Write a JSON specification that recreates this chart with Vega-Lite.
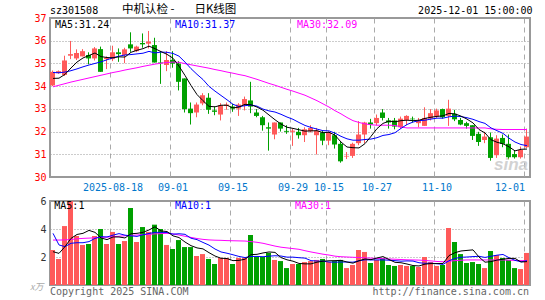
{
"$schema": "https://vega.github.io/schema/vega-lite/v6.json",
"autosize": {"type": "none"},
"padding": {"left": 50, "top": 18, "right": 495, "bottom": 282},
"background": "white",
"config": {
  "view": {"stroke": "#999", "strokeWidth": 2},
  "axis": {"domain": false, "ticks": false, "labelFont": "DejaVu Sans Mono", "labelFontSize": 10, "labelOverlap": false},
  "text": {"font": "DejaVu Sans Mono", "fontSize": 10, "baseline": "middle"}
},
"data": {"values": [
{"d":"2025-08-04","o":34.03,"h":34.69,"l":34.0,"c":34.63,"m5":34.34,"m10":34.6,"m30":33.97,"v":2.5,"vm5":2.38,"vm10":3.69,"vm30":3.21},
{"d":"2025-08-05","o":34.57,"h":34.69,"l":34.54,"c":34.66,"m5":34.35,"m10":34.59,"m30":34.04,"v":1.86,"vm5":2.26,"vm10":2.86,"vm30":3.21},
{"d":"2025-08-06","o":34.49,"h":35.34,"l":34.45,"c":35.13,"m5":34.52,"m10":34.62,"m30":34.11,"v":4.21,"vm5":2.74,"vm10":2.74,"vm30":3.22},
{"d":"2025-08-07","o":35.34,"h":35.99,"l":35.19,"c":35.41,"m5":34.8,"m10":34.68,"m30":34.18,"v":6.0,"vm5":3.33,"vm10":2.98,"vm30":3.25},
{"d":"2025-08-08","o":35.22,"h":35.62,"l":35.15,"c":35.46,"m5":35.06,"m10":34.76,"m30":34.24,"v":3.5,"vm5":3.61,"vm10":3.02,"vm30":3.3},
{"d":"2025-08-11","o":35.31,"h":35.63,"l":35.31,"c":35.54,"m5":35.24,"m10":34.85,"m30":34.3,"v":2.86,"vm5":3.69,"vm10":3.02,"vm30":3.33},
{"d":"2025-08-12","o":35.37,"h":35.49,"l":34.96,"c":35.22,"m5":35.35,"m10":34.93,"m30":34.36,"v":2.93,"vm5":3.9,"vm10":3.1,"vm30":3.35},
{"d":"2025-08-13","o":35.22,"h":35.72,"l":35.13,"c":35.66,"m5":35.46,"m10":35.0,"m30":34.42,"v":3.5,"vm5":3.76,"vm10":3.33,"vm30":3.37},
{"d":"2025-08-14","o":35.63,"h":35.74,"l":34.63,"c":34.63,"m5":35.3,"m10":35.07,"m30":34.48,"v":4.0,"vm5":3.36,"vm10":3.45,"vm30":3.4},
{"d":"2025-08-15","o":35.19,"h":35.31,"l":34.75,"c":35.25,"m5":35.26,"m10":35.16,"m30":34.54,"v":2.93,"vm5":3.24,"vm10":3.43,"vm30":3.42},
{"d":"2025-08-18","o":35.19,"h":35.78,"l":35.1,"c":35.49,"m5":35.25,"m10":35.25,"m30":34.6,"v":3.79,"vm5":3.43,"vm10":3.56,"vm30":3.45},
{"d":"2025-08-19","o":35.49,"h":35.66,"l":35.07,"c":35.41,"m5":35.29,"m10":35.32,"m30":34.65,"v":2.93,"vm5":3.43,"vm10":3.67,"vm30":3.48},
{"d":"2025-08-20","o":35.37,"h":35.69,"l":35.01,"c":35.62,"m5":35.28,"m10":35.37,"m30":34.71,"v":3.14,"vm5":3.36,"vm10":3.56,"vm30":3.52},
{"d":"2025-08-21","o":35.84,"h":36.37,"l":35.51,"c":35.66,"m5":35.49,"m10":35.39,"m30":34.76,"v":5.5,"vm5":3.66,"vm10":3.51,"vm30":3.55},
{"d":"2025-08-22","o":35.54,"h":35.78,"l":35.5,"c":35.74,"m5":35.58,"m10":35.42,"m30":34.81,"v":3.07,"vm5":3.69,"vm10":3.47,"vm30":3.57},
{"d":"2025-08-25","o":35.9,"h":36.32,"l":35.69,"c":35.84,"m5":35.65,"m10":35.45,"m30":34.87,"v":4.14,"vm5":3.76,"vm10":3.59,"vm30":3.6},
{"d":"2025-08-26","o":35.87,"h":36.43,"l":35.66,"c":35.96,"m5":35.76,"m10":35.53,"m30":34.92,"v":3.79,"vm5":3.93,"vm10":3.68,"vm30":3.62},
{"d":"2025-08-27","o":35.81,"h":36.13,"l":35.04,"c":35.04,"m5":35.65,"m10":35.46,"m30":34.97,"v":4.31,"vm5":4.16,"vm10":3.76,"vm30":3.65},
{"d":"2025-08-28","o":35.04,"h":35.54,"l":34.1,"c":35.01,"m5":35.52,"m10":35.5,"m30":35.01,"v":4.0,"vm5":3.86,"vm10":3.76,"vm30":3.67},
{"d":"2025-08-29","o":34.93,"h":35.54,"l":34.66,"c":35.15,"m5":35.4,"m10":35.49,"m30":35.04,"v":2.86,"vm5":3.82,"vm10":3.75,"vm30":3.69},
{"d":"2025-09-01","o":35.16,"h":35.54,"l":34.81,"c":34.99,"m5":35.23,"m10":35.44,"m30":35.06,"v":2.57,"vm5":3.51,"vm10":3.63,"vm30":3.65},
{"d":"2025-09-02","o":34.99,"h":35.1,"l":33.81,"c":34.19,"m5":34.88,"m10":35.32,"m30":35.05,"v":3.21,"vm5":3.39,"vm10":3.66,"vm30":3.57},
{"d":"2025-09-03","o":34.34,"h":34.34,"l":32.84,"c":32.99,"m5":34.47,"m10":35.06,"m30":34.99,"v":2.71,"vm5":3.07,"vm10":3.62,"vm30":3.48},
{"d":"2025-09-04","o":33.01,"h":33.28,"l":32.31,"c":32.81,"m5":34.03,"m10":34.77,"m30":34.94,"v":2.71,"vm5":2.81,"vm10":3.34,"vm30":3.4},
{"d":"2025-09-05","o":32.84,"h":33.28,"l":32.63,"c":33.19,"m5":33.63,"m10":34.52,"m30":34.89,"v":2.07,"vm5":2.65,"vm10":3.24,"vm30":3.32},
{"d":"2025-09-08","o":33.24,"h":33.69,"l":33.16,"c":33.6,"m5":33.36,"m10":34.29,"m30":34.84,"v":2.21,"vm5":2.58,"vm10":3.04,"vm30":3.26},
{"d":"2025-09-09","o":33.49,"h":33.69,"l":32.78,"c":32.96,"m5":33.11,"m10":33.99,"m30":34.79,"v":1.86,"vm5":2.31,"vm10":2.85,"vm30":3.22},
{"d":"2025-09-10","o":32.93,"h":33.1,"l":32.72,"c":32.87,"m5":33.09,"m10":33.78,"m30":34.73,"v":1.5,"vm5":2.07,"vm10":2.57,"vm30":3.2},
{"d":"2025-09-11","o":32.75,"h":33.25,"l":32.49,"c":33.16,"m5":33.16,"m10":33.59,"m30":34.68,"v":1.93,"vm5":1.91,"vm10":2.36,"vm30":3.19},
{"d":"2025-09-12","o":33.13,"h":33.28,"l":32.96,"c":33.19,"m5":33.16,"m10":33.4,"m30":34.62,"v":1.93,"vm5":1.89,"vm10":2.27,"vm30":3.17},
{"d":"2025-09-15","o":33.1,"h":33.22,"l":32.87,"c":33.01,"m5":33.04,"m10":33.2,"m30":34.57,"v":1.5,"vm5":1.74,"vm10":2.16,"vm30":3.16},
{"d":"2025-09-16","o":33.01,"h":33.25,"l":32.69,"c":33.19,"m5":33.08,"m10":33.1,"m30":34.51,"v":1.93,"vm5":1.76,"vm10":2.04,"vm30":3.15},
{"d":"2025-09-17","o":33.16,"h":33.54,"l":32.93,"c":33.43,"m5":33.2,"m10":33.14,"m30":34.46,"v":1.93,"vm5":1.84,"vm10":1.96,"vm30":3.14},
{"d":"2025-09-18","o":33.37,"h":34.19,"l":32.81,"c":33.1,"m5":33.18,"m10":33.17,"m30":34.38,"v":3.57,"vm5":2.17,"vm10":2.04,"vm30":3.1},
{"d":"2025-09-19","o":32.84,"h":32.99,"l":32.63,"c":32.69,"m5":33.08,"m10":33.12,"m30":34.3,"v":2.0,"vm5":2.19,"vm10":2.04,"vm30":3.05},
{"d":"2025-09-22","o":32.63,"h":32.69,"l":32.04,"c":32.28,"m5":32.94,"m10":32.99,"m30":34.21,"v":2.0,"vm5":2.29,"vm10":2.02,"vm30":2.98},
{"d":"2025-09-23","o":32.19,"h":32.4,"l":31.16,"c":32.13,"m5":32.73,"m10":32.91,"m30":34.12,"v":2.29,"vm5":2.36,"vm10":2.06,"vm30":2.88},
{"d":"2025-09-24","o":31.87,"h":32.4,"l":31.66,"c":32.4,"m5":32.52,"m10":32.86,"m30":34.04,"v":1.79,"vm5":2.33,"vm10":2.09,"vm30":2.78},
{"d":"2025-09-25","o":32.4,"h":32.4,"l":32.0,"c":32.13,"m5":32.33,"m10":32.76,"m30":33.95,"v":1.71,"vm5":1.96,"vm10":2.07,"vm30":2.7},
{"d":"2025-09-26","o":32.03,"h":32.28,"l":31.9,"c":31.99,"m5":32.19,"m10":32.64,"m30":33.86,"v":1.21,"vm5":1.8,"vm10":1.99,"vm30":2.65},
{"d":"2025-09-29","o":31.99,"h":32.13,"l":31.37,"c":32.04,"m5":32.14,"m10":32.54,"m30":33.78,"v":1.5,"vm5":1.7,"vm10":1.99,"vm30":2.6},
{"d":"2025-09-30","o":31.99,"h":32.16,"l":31.69,"c":31.84,"m5":32.08,"m10":32.4,"m30":33.69,"v":1.5,"vm5":1.54,"vm10":1.95,"vm30":2.55},
{"d":"2025-10-09","o":31.84,"h":32.19,"l":31.54,"c":32.1,"m5":32.02,"m10":32.27,"m30":33.6,"v":1.64,"vm5":1.51,"vm10":1.92,"vm30":2.45},
{"d":"2025-10-10","o":32.01,"h":32.28,"l":31.96,"c":32.16,"m5":32.03,"m10":32.18,"m30":33.48,"v":1.71,"vm5":1.51,"vm10":1.74,"vm30":2.36},
{"d":"2025-10-13","o":31.84,"h":32.16,"l":30.99,"c":32.04,"m5":32.04,"m10":32.11,"m30":33.36,"v":1.79,"vm5":1.63,"vm10":1.71,"vm30":2.28},
{"d":"2025-10-14","o":31.96,"h":32.04,"l":31.4,"c":31.6,"m5":31.95,"m10":32.04,"m30":33.22,"v":1.86,"vm5":1.7,"vm10":1.7,"vm30":2.2},
{"d":"2025-10-15","o":31.6,"h":32.01,"l":31.4,"c":31.96,"m5":31.97,"m10":32.03,"m30":33.08,"v":1.64,"vm5":1.73,"vm10":1.64,"vm30":2.14},
{"d":"2025-10-16","o":31.84,"h":31.99,"l":31.25,"c":31.43,"m5":31.84,"m10":31.93,"m30":32.92,"v":1.71,"vm5":1.74,"vm10":1.63,"vm30":2.06},
{"d":"2025-10-17","o":31.46,"h":31.54,"l":30.63,"c":30.69,"m5":31.54,"m10":31.79,"m30":32.78,"v":1.79,"vm5":1.76,"vm10":1.64,"vm30":2.02},
{"d":"2025-10-20","o":30.9,"h":31.1,"l":30.79,"c":30.93,"m5":31.32,"m10":31.68,"m30":32.62,"v":1.21,"vm5":1.64,"vm10":1.64,"vm30":2.0},
{"d":"2025-10-21","o":30.93,"h":31.51,"l":30.84,"c":31.46,"m5":31.29,"m10":31.62,"m30":32.48,"v":1.43,"vm5":1.56,"vm10":1.63,"vm30":1.98},
{"d":"2025-10-22","o":31.49,"h":32.46,"l":31.4,"c":31.87,"m5":31.28,"m10":31.62,"m30":32.4,"v":2.5,"vm5":1.73,"vm10":1.73,"vm30":1.96},
{"d":"2025-10-23","o":31.87,"h":32.43,"l":31.49,"c":32.4,"m5":31.47,"m10":31.65,"m30":32.34,"v":2.36,"vm5":1.86,"vm10":1.8,"vm30":1.94},
{"d":"2025-10-24","o":32.4,"h":32.56,"l":32.13,"c":32.31,"m5":31.79,"m10":31.67,"m30":32.3,"v":1.57,"vm5":1.81,"vm10":1.79,"vm30":1.92},
{"d":"2025-10-27","o":32.37,"h":32.75,"l":32.28,"c":32.6,"m5":32.13,"m10":31.73,"m30":32.28,"v":1.79,"vm5":1.93,"vm10":1.79,"vm30":1.9},
{"d":"2025-10-28","o":32.84,"h":32.99,"l":32.49,"c":32.6,"m5":32.36,"m10":31.83,"m30":32.28,"v":1.93,"vm5":2.03,"vm10":1.79,"vm30":1.88},
{"d":"2025-10-29","o":32.49,"h":32.6,"l":32.13,"c":32.4,"m5":32.46,"m10":31.87,"m30":32.28,"v":1.43,"vm5":1.82,"vm10":1.77,"vm30":1.86},
{"d":"2025-10-30","o":32.49,"h":32.6,"l":32.1,"c":32.22,"m5":32.43,"m10":31.95,"m30":32.27,"v":1.36,"vm5":1.62,"vm10":1.74,"vm30":1.84},
{"d":"2025-10-31","o":32.19,"h":32.66,"l":32.13,"c":32.57,"m5":32.48,"m10":32.14,"m30":32.2,"v":1.43,"vm5":1.59,"vm10":1.7,"vm30":1.82},
{"d":"2025-11-03","o":32.51,"h":32.72,"l":32.28,"c":32.69,"m5":32.5,"m10":32.31,"m30":32.16,"v":1.36,"vm5":1.5,"vm10":1.72,"vm30":1.8},
{"d":"2025-11-04","o":32.57,"h":32.66,"l":32.4,"c":32.54,"m5":32.48,"m10":32.42,"m30":32.16,"v":1.36,"vm5":1.39,"vm10":1.71,"vm30":1.79},
{"d":"2025-11-05","o":32.37,"h":32.6,"l":32.19,"c":32.49,"m5":32.5,"m10":32.48,"m30":32.16,"v":1.29,"vm5":1.36,"vm10":1.59,"vm30":1.78},
{"d":"2025-11-06","o":32.25,"h":33.07,"l":32.25,"c":32.6,"m5":32.58,"m10":32.5,"m30":32.16,"v":2.0,"vm5":1.49,"vm10":1.55,"vm30":1.75},
{"d":"2025-11-07","o":32.57,"h":32.99,"l":32.49,"c":32.81,"m5":32.63,"m10":32.55,"m30":32.16,"v":1.64,"vm5":1.53,"vm10":1.56,"vm30":1.72},
{"d":"2025-11-10","o":32.66,"h":33.01,"l":32.6,"c":32.93,"m5":32.67,"m10":32.59,"m30":32.16,"v":1.36,"vm5":1.53,"vm10":1.52,"vm30":1.68},
{"d":"2025-11-11","o":32.99,"h":33.01,"l":32.57,"c":32.63,"m5":32.69,"m10":32.59,"m30":32.16,"v":1.43,"vm5":1.54,"vm10":1.47,"vm30":1.66},
{"d":"2025-11-12","o":32.69,"h":33.4,"l":32.25,"c":33.01,"m5":32.8,"m10":32.65,"m30":32.16,"v":4.07,"vm5":2.1,"vm10":1.73,"vm30":1.7},
{"d":"2025-11-13","o":32.78,"h":32.96,"l":32.46,"c":32.54,"m5":32.78,"m10":32.68,"m30":32.16,"v":3.07,"vm5":2.31,"vm10":1.9,"vm30":1.74},
{"d":"2025-11-14","o":32.51,"h":32.6,"l":32.28,"c":32.31,"m5":32.68,"m10":32.66,"m30":32.16,"v":2.21,"vm5":2.43,"vm10":1.98,"vm30":1.77},
{"d":"2025-11-17","o":32.37,"h":32.43,"l":32.13,"c":32.25,"m5":32.55,"m10":32.61,"m30":32.16,"v":1.57,"vm5":2.47,"vm10":2.0,"vm30":1.79},
{"d":"2025-11-18","o":32.28,"h":32.28,"l":31.63,"c":31.81,"m5":32.38,"m10":32.54,"m30":32.16,"v":1.64,"vm5":2.51,"vm10":2.03,"vm30":1.79},
{"d":"2025-11-19","o":31.9,"h":31.99,"l":31.37,"c":31.54,"m5":32.09,"m10":32.44,"m30":32.16,"v":1.5,"vm5":2.0,"vm10":2.05,"vm30":1.79},
{"d":"2025-11-20","o":31.63,"h":31.99,"l":31.49,"c":31.78,"m5":31.94,"m10":32.36,"m30":32.16,"v":1.21,"vm5":1.63,"vm10":1.97,"vm30":1.79},
{"d":"2025-11-21","o":31.75,"h":31.96,"l":30.72,"c":30.84,"m5":31.64,"m10":32.16,"m30":32.12,"v":2.43,"vm5":1.67,"vm10":2.05,"vm30":1.79},
{"d":"2025-11-24","o":30.96,"h":31.84,"l":30.84,"c":31.69,"m5":31.53,"m10":32.04,"m30":32.1,"v":2.14,"vm5":1.78,"vm10":2.13,"vm30":1.79},
{"d":"2025-11-25","o":31.72,"h":31.87,"l":31.31,"c":31.46,"m5":31.46,"m10":31.92,"m30":32.09,"v":1.93,"vm5":1.84,"vm10":2.18,"vm30":1.79},
{"d":"2025-11-26","o":31.46,"h":31.87,"l":30.78,"c":30.87,"m5":31.33,"m10":31.71,"m30":32.09,"v":1.79,"vm5":1.9,"vm10":1.95,"vm30":1.77},
{"d":"2025-11-27","o":31.01,"h":31.16,"l":30.81,"c":30.87,"m5":31.15,"m10":31.54,"m30":32.09,"v":1.21,"vm5":1.9,"vm10":1.76,"vm30":1.76},
{"d":"2025-11-28","o":30.87,"h":31.34,"l":30.81,"c":31.19,"m5":31.22,"m10":31.43,"m30":32.09,"v":1.14,"vm5":1.64,"vm10":1.66,"vm30":1.74},
{"d":"2025-12-01","o":31.31,"h":32.13,"l":31.28,"c":31.78,"m5":31.23,"m10":31.38,"m30":32.09,"v":2.29,"vm5":1.67,"vm10":1.73,"vm30":1.74}
]},
"spacing": 24,
"bounds": "flush",
"vconcat": [
{
  "width": 480, "height": 159,
  "layer": [
    {"mark": {"type": "bar", "width": 5, "xOffset": -0.5},
     "encoding": {
       "x": {"field": "d", "type": "ordinal", "title": null, "scale": {"paddingInner": 0, "paddingOuter": 0},
             "axis": {"title": null, "values": ["2025-08-18","2025-09-01","2025-09-15","2025-09-29","2025-10-15","2025-10-27","2025-11-10","2025-12-01"],
                      "labelExpr": "datum.value == '2025-08-18' ? datum.value : slice(datum.value, 5)",
                      "labelColor": "#0077cc", "labelAngle": 0, "labelPadding": 5, "grid": true, "gridDash": [5,4], "gridColor": "#aaa",
                      "bandPosition": 0.12, "labelFlush": 6, "labelFlushOffset": -2, "labelOverlap": false, "labelBound": false}},
       "y": {"field": "o", "type": "quantitative", "title": null, "scale": {"domain": [30,37], "nice": false, "zero": false},
             "axis": {"title": null, "values": [30,31,32,33,34,35,36,37], "tickCount": 8, "labelColor": "#ff0000", "grid": true, "gridDash": [1,2], "gridColor": "#999", "labelPadding": 4, "labelOverlap": false, "labelBound": false}},
       "y2": {"field": "c"},
       "color": {"condition": {"test": "datum.c >= datum.o", "value": "#ff5a5a"}, "value": "#00a000"}
     }},
    {"mark": {"type": "rule", "strokeWidth": 1, "xOffset": -0.5},
     "encoding": {
       "x": {"field": "d", "type": "ordinal", "title": null},
       "y": {"field": "l", "type": "quantitative", "title": null},
       "y2": {"field": "h"},
       "color": {"condition": {"test": "datum.c >= datum.o", "value": "#ff5a5a"}, "value": "#00a000"}
     }},
    {"mark": {"type": "line", "strokeWidth": 1, "color": "#ff00ff"},
     "encoding": {"x": {"field": "d", "type": "ordinal", "title": null}, "y": {"field": "m30", "type": "quantitative", "title": null}}},
    {"mark": {"type": "line", "strokeWidth": 1, "color": "#0000ff"},
     "encoding": {"x": {"field": "d", "type": "ordinal", "title": null}, "y": {"field": "m10", "type": "quantitative", "title": null}}},
    {"mark": {"type": "line", "strokeWidth": 1, "color": "#000000"},
     "encoding": {"x": {"field": "d", "type": "ordinal", "title": null}, "y": {"field": "m5", "type": "quantitative", "title": null}}},
    {"data": {"values": [{}]}, "mark": {"type": "text", "align": "left", "dx": -3, "color": "#000"},
     "encoding": {"x": {"datum": "2025-08-04", "type": "ordinal"}, "y": {"datum": 37.3, "type": "quantitative"}, "text": {"value": "sz301508"}}},
    {"data": {"values": [{}]}, "mark": {"type": "text", "align": "left", "dx": 3, "color": "#000", "font": "Noto Sans CJK SC", "fontSize": 11.5},
     "encoding": {"x": {"datum": "2025-08-19", "type": "ordinal"}, "y": {"datum": 37.35, "type": "quantitative"}, "text": {"value": "中机认检 -"}}},
    {"data": {"values": [{}]}, "mark": {"type": "text", "align": "left", "dx": -2.6, "color": "#000", "font": "Noto Sans CJK SC", "fontSize": 11.5},
     "encoding": {"x": {"datum": "2025-09-05", "type": "ordinal"}, "y": {"datum": 37.35, "type": "quantitative"}, "text": {"value": "日K线图"}}},
    {"data": {"values": [{}]}, "mark": {"type": "text", "align": "right", "dx": 5.5, "color": "#000"},
     "encoding": {"x": {"datum": "2025-12-01", "type": "ordinal"}, "y": {"datum": 37.3, "type": "quantitative"}, "text": {"value": "2025-12-01 15:00:00"}}},
    {"data": {"values": [{}]}, "mark": {"type": "text", "align": "left", "dx": 2, "color": "#000"},
     "encoding": {"x": {"datum": "2025-08-04", "type": "ordinal"}, "y": {"datum": 36.68, "type": "quantitative"}, "text": {"value": "MA5:31.24"}}},
    {"data": {"values": [{}]}, "mark": {"type": "text", "align": "left", "dx": 2, "color": "#0000ff"},
     "encoding": {"x": {"datum": "2025-09-01", "type": "ordinal"}, "y": {"datum": 36.68, "type": "quantitative"}, "text": {"value": "MA10:31.37"}}},
    {"data": {"values": [{}]}, "mark": {"type": "text", "align": "left", "dx": -2, "color": "#ff00ff"},
     "encoding": {"x": {"datum": "2025-09-30", "type": "ordinal"}, "y": {"datum": 36.68, "type": "quantitative"}, "text": {"value": "MA30:32.09"}}},
    {"data": {"values": [{}]}, "mark": {"type": "text", "align": "right", "dx": 1, "color": "#c8c8c8", "font": "Liberation Sans", "fontSize": 17, "fontStyle": "italic", "fontWeight": "bold", "opacity": 0.8},
     "encoding": {"x": {"datum": "2025-12-01", "type": "ordinal"}, "y": {"datum": 30.53, "type": "quantitative"}, "text": {"value": "sina"}}}
  ]
},
{
  "width": 480, "height": 84,
  "layer": [
    {"mark": {"type": "bar", "width": 5, "xOffset": -0.5},
     "encoding": {
       "x": {"field": "d", "type": "ordinal", "title": null, "scale": {"paddingInner": 0, "paddingOuter": 0},
             "axis": {"title": null, "values": ["2025-08-18","2025-09-01","2025-09-15","2025-09-29","2025-10-15","2025-10-27","2025-11-10","2025-12-01"],
                      "labels": false, "grid": true, "gridDash": [5,4], "gridColor": "#aaa", "bandPosition": 0.12}},
       "y": {"field": "v", "type": "quantitative", "title": null, "scale": {"domain": [0,6], "nice": false},
             "axis": {"title": null, "values": [2,4,6], "labelColor": "#333", "grid": true, "gridDash": [1,2], "gridColor": "#999", "labelPadding": 4, "labelOverlap": false, "labelBound": false}},
       "color": {"condition": {"test": "datum.c >= datum.o", "value": "#ff5a5a"}, "value": "#00a000"}
     }},
    {"mark": {"type": "line", "strokeWidth": 1, "color": "#ff00ff"},
     "encoding": {"x": {"field": "d", "type": "ordinal", "title": null}, "y": {"field": "vm30", "type": "quantitative", "title": null}}},
    {"mark": {"type": "line", "strokeWidth": 1, "color": "#0000ff"},
     "encoding": {"x": {"field": "d", "type": "ordinal", "title": null}, "y": {"field": "vm10", "type": "quantitative", "title": null}}},
    {"mark": {"type": "line", "strokeWidth": 1, "color": "#000000"},
     "encoding": {"x": {"field": "d", "type": "ordinal", "title": null}, "y": {"field": "vm5", "type": "quantitative", "title": null}}},
    {"data": {"values": [{}]}, "mark": {"type": "text", "align": "left", "dx": 1.3, "color": "#000"},
     "encoding": {"x": {"datum": "2025-08-04", "type": "ordinal"}, "y": {"datum": 5.64, "type": "quantitative"}, "text": {"value": "MA5:1"}}},
    {"data": {"values": [{}]}, "mark": {"type": "text", "align": "left", "dx": 2, "color": "#0000ff"},
     "encoding": {"x": {"datum": "2025-09-01", "type": "ordinal"}, "y": {"datum": 5.64, "type": "quantitative"}, "text": {"value": "MA10:1"}}},
    {"data": {"values": [{}]}, "mark": {"type": "text", "align": "left", "dx": 2, "color": "#ff00ff"},
     "encoding": {"x": {"datum": "2025-09-29", "type": "ordinal"}, "y": {"datum": 5.64, "type": "quantitative"}, "text": {"value": "MA30:1"}}},
    {"data": {"values": [{}]}, "mark": {"type": "text", "align": "left", "dx": -3, "color": "#666"},
     "encoding": {"x": {"datum": "2025-08-04", "type": "ordinal"}, "y": {"datum": -0.5, "type": "quantitative"}, "text": {"value": "Copyright 2025 SINA.COM"}}},
    {"data": {"values": [{}]}, "mark": {"type": "text", "align": "right", "dx": 2, "color": "#666"},
     "encoding": {"x": {"datum": "2025-12-01", "type": "ordinal"}, "y": {"datum": -0.5, "type": "quantitative"}, "text": {"value": "http://finance.sina.com.cn"}}},
    {"data": {"values": [{}]}, "mark": {"type": "text", "align": "right", "dx": -9.5, "color": "#aaa", "fontSize": 9, "fontStyle": "italic", "font": "Noto Sans CJK SC"},
     "encoding": {"x": {"datum": "2025-08-04", "type": "ordinal"}, "y": {"datum": -0.11, "type": "quantitative"}, "text": {"value": "x万"}}}
  ]
}
]
}
